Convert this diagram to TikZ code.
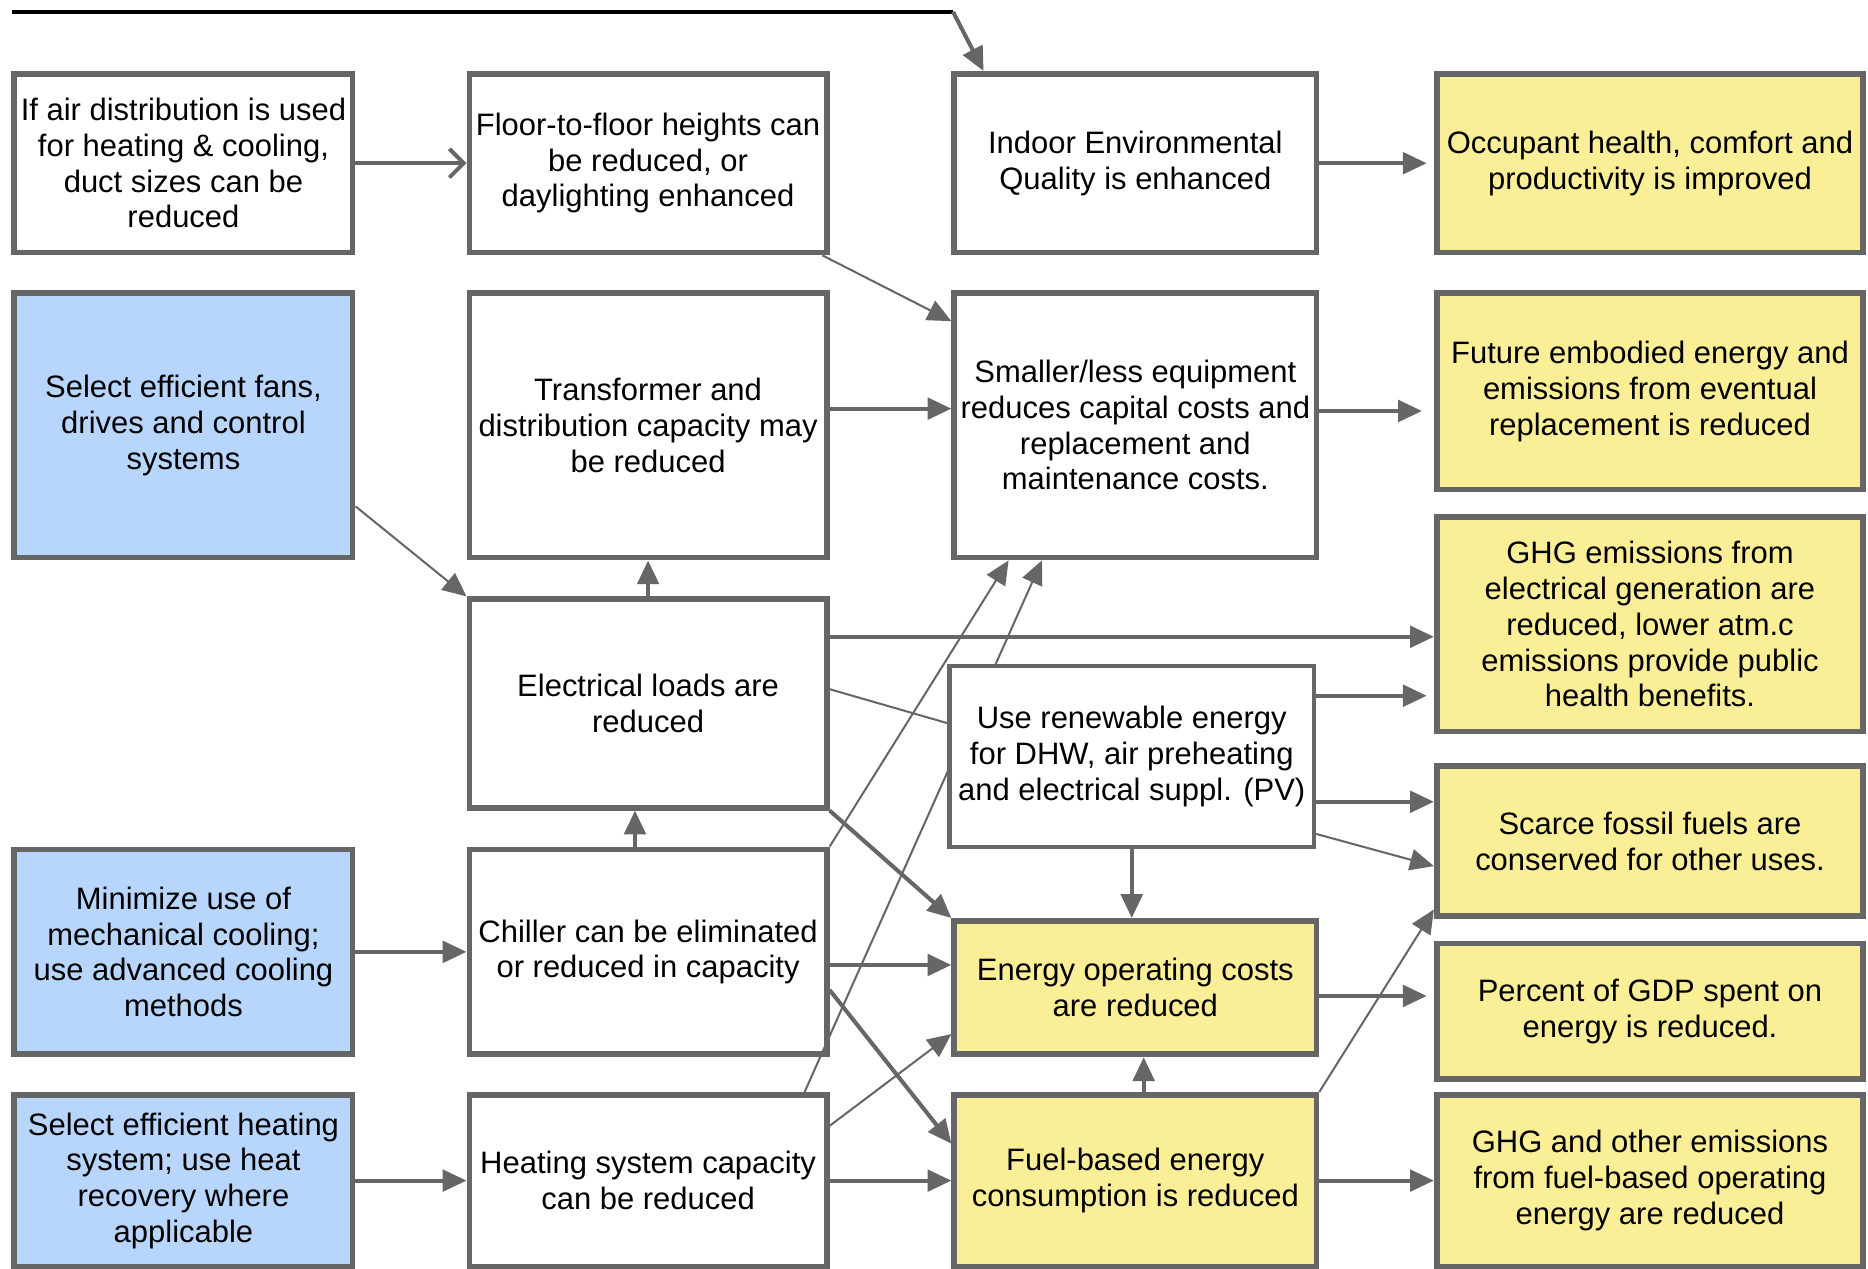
\documentclass[tikz,border=0pt]{standalone}
\usepackage{fontspec}
\setmainfont{Liberation Sans}
\usepackage{xcolor}
\usepackage{tikz}
\usetikzlibrary{positioning, arrows.meta}

\definecolor{linegray}{HTML}{666666}
\definecolor{causeblue}{HTML}{B8D5FC}
\definecolor{effectyellow}{HTML}{FAEE96}

\begin{document}
\begin{tikzpicture}[
        box/.style={draw=linegray, line width=2.4pt, fill=white, rectangle, align=center, inner sep=2pt,
            minimum width=142pt, minimum height=75pt, font=\fontsize{13}{15}\selectfont},
        cause/.style={box, fill=causeblue},
        effect/.style={box, fill=effectyellow, minimum width=179pt},
        arrow/.style={-{Triangle[length=10pt, width=9pt]}, draw=linegray, line width=1.7pt},
        thinarrow/.style={arrow, line width=0.85pt},
        openarrow/.style={-{Straight Barb[length=6pt, width=12pt]}, draw=linegray, line width=1.7pt}
        ]
        \useasboundingbox (0pt,0pt) rectangle (784pt,-532.5pt);

        \node[box] (air) at (77pt,-68.5pt) {If air distribution is used\\for heating \& cooling,\\duct sizes can be\\reduced};
        \node[box, minimum width=150pt, right=46.6pt of air] (floor) {Floor-to-floor heights can\\be reduced, or\\daylighting enhanced};
        \node[box, minimum width=152pt, right=51.1pt of floor] (ieq) {Indoor Environmental\\Quality is enhanced};
        \node[effect, right=48.1pt of ieq] (occ) {Occupant health, comfort and\\productivity is improved};

        \node[cause, minimum height=111pt, below=14.6pt of air] (fans) {Select efficient fans,\\drives and control\\systems};
        \node[box, minimum width=150pt, minimum height=111pt, below=14.6pt of floor] (trans) {Transformer and\\distribution capacity may\\be reduced};
        \node[box, minimum width=152pt, minimum height=111pt, below=14.6pt of ieq] (equip) {Smaller/less equipment\\reduces capital costs and\\replacement and\\maintenance costs.};
        \node[effect, minimum height=82.5pt, below=14.6pt of occ] (embod) {Future embodied energy and\\emissions from eventual\\replacement is reduced};
        \node[effect, minimum height=90pt, below=9.1pt of embod] (ghgel) {GHG emissions from\\electrical generation are\\reduced, lower atm.c\\emissions provide public\\health benefits.};

        \node[box, minimum width=150pt, minimum height=87.5pt, below=15.1pt of trans] (loads) {Electrical loads are\\reduced};
        \node[effect, minimum height=63pt, below=12.1pt of ghgel] (fossil) {Scarce fossil fuels are\\conserved for other uses.};

        \node[box, minimum width=150pt, minimum height=86pt, below=15.1pt of loads] (chiller) {Chiller can be eliminated\\or reduced in capacity};
        \node[cause, minimum height=86pt, left=46.6pt of chiller] (cool) {Minimize use of\\mechanical cooling;\\use advanced cooling\\methods};
        \node[effect, minimum width=152pt, minimum height=56pt, right=51.1pt of chiller.south east, anchor=south west] (energy) {Energy operating costs\\are reduced};
        \node[effect, minimum height=57pt, below=9.1pt of fossil] (gdp) {Percent of GDP spent on\\energy is reduced.};

        \node[box, minimum width=150pt, minimum height=72pt, below=14.6pt of chiller] (heat) {Heating system capacity\\can be reduced};
        \node[cause, minimum height=72pt, left=46.6pt of heat] (heatsel) {Select efficient heating\\system; use heat\\recovery where\\applicable};
        \node[effect, minimum width=152pt, minimum height=72pt, right=51.1pt of heat] (fuel) {Fuel-based energy\\consumption is reduced};
        \node[effect, minimum height=72pt, right=48.1pt of fuel] (ghgfuel) {GHG and other emissions\\from fuel-based operating\\energy are reduced};

        \draw[thinarrow] ([xshift=-10.5pt]heat.north east) -- ([xshift=38pt]equip.south west);

        \node[box, minimum width=153pt, minimum height=76pt, line width=1.8pt, below=43.4pt of equip, xshift=-1.5pt] (renew) {Use renewable energy\\for DHW, air preheating\\and electrical suppl. (PV)};

        \coordinate (topstart) at (5pt,-5pt);
        \coordinate (topbend) at (400pt,-5pt);
        \draw[line width=2pt] (topstart) -- (topbend);
        \draw[arrow] (topbend) -- ([xshift=13.5pt]ieq.north west);

        \draw[openarrow] (air) -- (floor);
        \draw[thinarrow] ([xshift=-3pt]floor.south east) -- ([yshift=-13pt]equip.north west);
        \draw[arrow, shorten >=3pt] (ieq) -- (occ);
        \draw[arrow] ([yshift=7pt]trans.east) -- ([yshift=7pt]equip.west);
        \draw[arrow, shorten >=5pt] ([yshift=6pt]equip.east) -- ([yshift=6pt]equip.east -| embod.west);
        \draw[thinarrow] ([yshift=-34pt]fans.east) -- (loads.north west);
        \draw[arrow] (loads) -- (trans);
        \draw[arrow] ([yshift=28pt]loads.east) -- ([yshift=28pt]loads.east -| ghgel.west);
        \draw[draw=linegray, line width=0.85pt] ([yshift=6pt]loads.east) -- ([yshift=14pt]renew.west);
        \draw[thinarrow] (chiller.north east) -- ([xshift=24pt]equip.south west);
        \draw[arrow] (loads.south east) -- (energy.north west);
        \draw[arrow] ([yshift=-16pt]chiller.east) -- ([yshift=15.5pt]fuel.west);
        \draw[arrow] ([yshift=-5.5pt]chiller.east) -- ([yshift=-5.5pt]chiller.east -| energy.west);
        \draw[arrow] (cool) -- (chiller);
        \draw[arrow] ([xshift=-5.5pt]chiller.north) -- ([xshift=-5.5pt]loads.south);
        \draw[arrow] (heatsel) -- (heat);
        \draw[thinarrow] ([yshift=23pt]heat.east) -- ([yshift=-19.5pt]energy.west);
        \draw[arrow] (heat) -- (fuel);
        \draw[arrow] ([xshift=3.5pt]fuel.north) -- ([xshift=3.5pt]energy.south);
        \draw[arrow] (renew.south) -- (renew.south |- energy.north);
        \draw[arrow, shorten >=3pt] ([yshift=25.5pt]renew.east) -- ([yshift=25.5pt]renew.east -| ghgel.west);
        \draw[arrow] ([yshift=-19pt]renew.east) -- ([yshift=-19pt]renew.east -| fossil.west);
        \draw[thinarrow] ([yshift=-32.5pt]renew.east) -- ([yshift=-10.5pt]fossil.west);
        \draw[arrow, shorten >=3pt] ([yshift=-3.5pt]energy.east) -- ([yshift=-3.5pt]energy.east -| gdp.west);
        \draw[thinarrow] (fuel.north east) -- ([yshift=4pt]fossil.south west);
        \draw[arrow] (fuel) -- (ghgfuel);
    \end{tikzpicture}
\end{document}
